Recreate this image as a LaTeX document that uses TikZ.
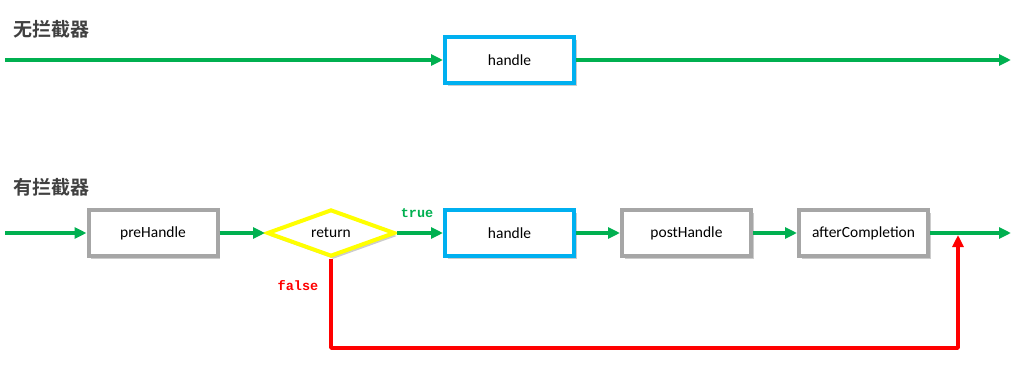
\documentclass[tikz,border=0pt]{standalone}
\usepackage{fontspec}
\setmainfont{Carlito}
\newfontfamily\cjkbold[BoldFont={Noto Sans CJK SC Bold}]{Noto Sans CJK SC}
\newfontfamily\monobold{Liberation Mono}
\usetikzlibrary{arrows.meta,shapes.geometric,shadows}
\definecolor{flowgreen}{HTML}{00B050}
\definecolor{boxblue}{HTML}{00B0F0}
\definecolor{boxgray}{HTML}{A6A6A6}
\definecolor{titlegray}{HTML}{404040}
\definecolor{dyellow}{HTML}{FFFF00}
\begin{document}
\begin{tikzpicture}[x=1pt,y=-1pt,
  shad/.style={drop shadow={opacity=0.4,shadow xshift=2.5pt,shadow yshift=-3pt}},
  procbox/.style={draw=boxgray,line width=4pt,fill=white,minimum width=129pt,minimum height=46pt,inner sep=0pt,font=\fontsize{15.5}{18}\selectfont,shad},
  mainbox/.style={procbox,draw=boxblue},
  decbox/.style={diamond,draw=dyellow,line width=4pt,fill=white,minimum width=128pt,minimum height=47pt,inner sep=0pt,aspect=2.7,font=\fontsize{15.5}{18}\selectfont,shad},
  flow/.style={draw=flowgreen,line width=3.5pt,-{Triangle[length=12pt,width=11pt]}},
  backflow/.style={draw=red,line width=3.5pt,-{Triangle[length=12pt,width=11pt]}},
  title/.style={font=\cjkbold\bfseries\fontsize{19}{22}\selectfont,text=titlegray,anchor=west,inner sep=0pt},
  lbl/.style={font=\monobold\bfseries\fontsize{13.5}{15}\selectfont,inner sep=0pt}
]
\useasboundingbox (0,0) rectangle (1013,380);

% top: without interceptor
\node[title] (t1) at (13,29) {无拦截器};
\node[mainbox] (h1) at (509.5,60) {handle};
\coordinate (s1) at (5,60);
\coordinate (e1) at (1011,60);
\draw[flow] (s1) -- (h1);
\draw[flow] (h1) -- (e1);

% bottom: with interceptor
\node[title] (t2) at (13,187) {有拦截器};
\node[procbox] (pre) at (153,233) {preHandle};
\node[decbox] (ret) at (331,233) {return};
\node[mainbox] (h2) at (509.5,233) {handle};
\node[procbox] (post) at (686.5,233) {postHandle};
\node[procbox] (after) at (863.5,233) {afterCompletion};
\coordinate (s2) at (5,233);
\coordinate (e2) at (1011,233);
\coordinate (bot) at (331,348);
\coordinate (join) at (958,235);

\draw[flow] (s2) -- (pre);
\draw[flow] (pre) -- (ret);
\draw[flow] (ret) -- (h2);
\draw[flow] (h2) -- (post);
\draw[flow] (post) -- (after);
\draw[flow] (after) -- (e2);
\draw[backflow,line join=round] (ret.south) -- (bot) -| (join);

\node[lbl,text=flowgreen] (ltrue) at (417,213) {true};
\node[lbl,text=red] (lfalse) at (298,286) {false};
\end{tikzpicture}
\end{document}
